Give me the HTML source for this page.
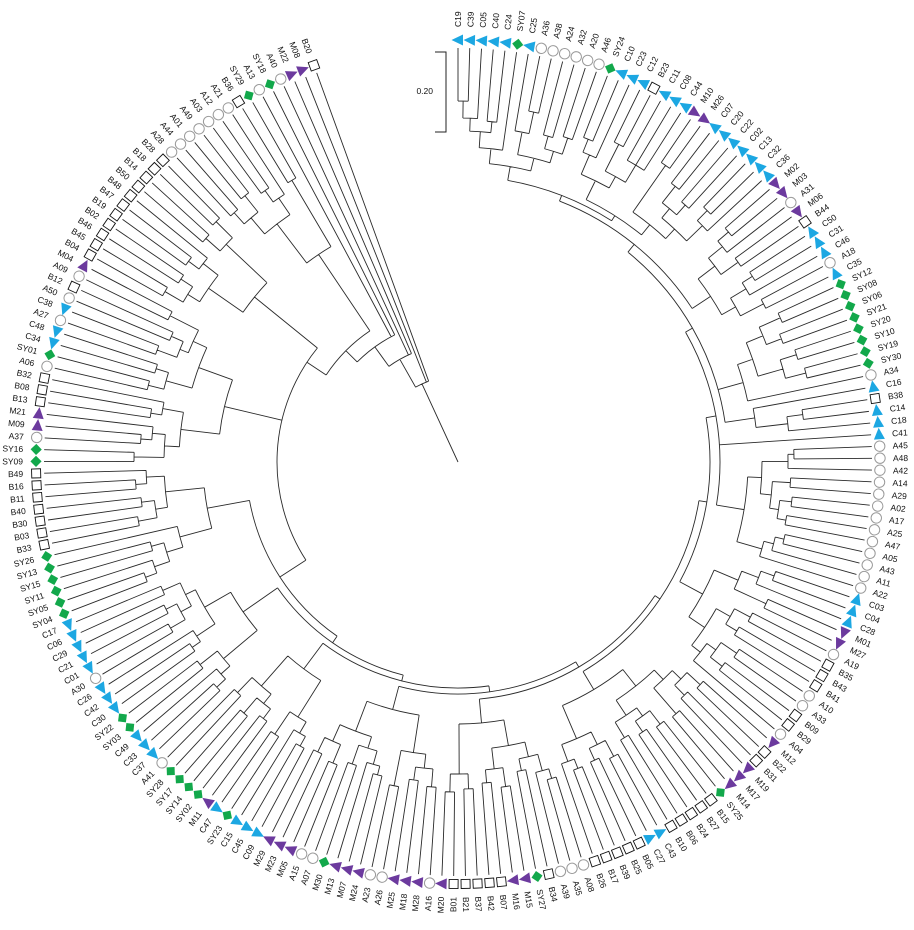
<!DOCTYPE html>
<html><head><meta charset="utf-8"><style>
html,body{margin:0;padding:0;background:#fff;width:914px;height:930px;overflow:hidden}
svg{display:block}
text{font-family:"Liberation Sans",Arial,sans-serif;font-size:8.5px;fill:#111;stroke:none}
.f{text-anchor:end}
</style></head><body>
<svg width="914" height="930" viewBox="0 0 914 930" xmlns="http://www.w3.org/2000/svg">
<defs>
<circle id="A" cx="422" cy="0" r="5.2" fill="#fff" stroke="#9a9a9a" stroke-width="1"/>
<rect id="B" x="417.5" y="-4.5" width="9" height="9" fill="#fff" stroke="#111" stroke-width="0.9"/>
<polygon id="C" points="416.5,5 427.5,5 422,-6.5" fill="#1ca7e2" stroke="none"/>
<polygon id="M" points="416.5,-5 427.5,-5 422,6.5" fill="#6c3a9e" stroke="none"/>
<polygon id="S" points="422,-5.6 427.6,0 422,5.6 416.4,0" fill="#12a84b" stroke="none"/>
</defs>
<rect width="914" height="930" fill="#fff"/>
<path d="M435 52H446V132H435" fill="none" stroke="#222" stroke-width="1"/>
<text x="433" y="94" class="f">0.20</text>
<g transform="translate(458,462) rotate(-90)">
<path id="br" fill="none" stroke="#2a2a2a" stroke-width="0.9"/>
<g id="mk"></g>
<g id="lb">
<text>C19</text><text>C39</text><text>C05</text><text>C40</text><text>C24</text><text>SY07</text><text>C25</text><text>A36</text><text>A38</text><text>A24</text>
<text>A32</text><text>A20</text><text>A46</text><text>SY24</text><text>C10</text><text>C23</text><text>C12</text><text>B23</text><text>C11</text><text>C08</text>
<text>C44</text><text>M10</text><text>M26</text><text>C07</text><text>C20</text><text>C22</text><text>C02</text><text>C13</text><text>C32</text><text>C36</text>
<text>M02</text><text>M03</text><text>A31</text><text>M06</text><text>B44</text><text>C50</text><text>C31</text><text>C46</text><text>A18</text><text>C35</text>
<text>SY12</text><text>SY08</text><text>SY06</text><text>SY21</text><text>SY20</text><text>SY10</text><text>SY19</text><text>SY30</text><text>A34</text><text>C16</text>
<text>B38</text><text>C14</text><text>C18</text><text>C41</text><text>A45</text><text>A48</text><text>A42</text><text>A14</text><text>A29</text><text>A02</text>
<text>A17</text><text>A25</text><text>A47</text><text>A05</text><text>A43</text><text>A11</text><text>A22</text><text>C03</text><text>C04</text><text>C28</text>
<text>M01</text><text>M27</text><text>A19</text><text>B35</text><text>B43</text><text>B41</text><text>A10</text><text>A33</text><text>B09</text><text>B29</text>
<text>A04</text><text>M12</text><text>B22</text><text>B31</text><text>M19</text><text>M17</text><text>M14</text><text>SY25</text><text>B15</text><text>B27</text>
<text>B24</text><text>B06</text><text>B10</text><text>C43</text><text>C27</text><text>B05</text><text>B25</text><text>B39</text><text>B17</text><text>B26</text>
<text>A08</text><text>A35</text><text>A39</text><text>B34</text><text>SY27</text><text>M15</text><text>M16</text><text>B07</text><text>B42</text><text>B37</text>
<text>B21</text><text>B01</text><text>M20</text><text>A16</text><text>M28</text><text>M18</text><text>M25</text><text>A26</text><text>A23</text><text>M24</text>
<text>M07</text><text>M13</text><text>M30</text><text>A07</text><text>A15</text><text>M05</text><text>M23</text><text>M29</text><text>C09</text><text>C45</text>
<text>C15</text><text>SY23</text><text>C47</text><text>M11</text><text>SY02</text><text>SY14</text><text>SY17</text><text>SY28</text><text>A41</text><text>C37</text>
<text>C33</text><text>C49</text><text>SY03</text><text>SY22</text><text>C30</text><text>C42</text><text>C26</text><text>A30</text><text>C01</text><text>C21</text>
<text>C29</text><text>C06</text><text>C17</text><text>SY04</text><text>SY05</text><text>SY11</text><text>SY15</text><text>SY13</text><text>SY26</text><text>B33</text>
<text>B03</text><text>B30</text><text>B40</text><text>B11</text><text>B16</text><text>B49</text><text>SY09</text><text>SY16</text><text>A37</text><text>M09</text>
<text>M21</text><text>B13</text><text>B08</text><text>B32</text><text>A06</text><text>SY01</text><text>C34</text><text>C48</text><text>A27</text><text>C38</text>
<text>A50</text><text>B12</text><text>A09</text><text>M04</text><text>B04</text><text>B45</text><text>B46</text><text>B02</text><text>B19</text><text>B47</text>
<text>B48</text><text>B50</text><text>B14</text><text>B18</text><text>B28</text><text>A28</text><text>A44</text><text>A01</text><text>A49</text><text>A03</text>
<text>A12</text><text>A21</text><text>B36</text><text>SY29</text><text>A13</text><text>SY18</text><text>A40</text><text>M22</text><text>M08</text><text>B20</text>
</g>
</g>
</svg>
<script>
(function(){
var D=1.627,NS="http://www.w3.org/2000/svg";
var C1=[300,[315,[331,[344,[361,0,1],2],[342,3,4]],5],[313,[336,6,[358,7,8]],[325,[338,9,10],[342,11,12]]]];
var C2=[292,[313,[334,[348,13,14],15],[326,[356,16,17],[346,18,19,20]]],[305,[362,21,22],[318,[330,[351,23,24],[343,25,26]],[340,[354,27,28],29]]]];
var C3=[302,[323,[341,[355,30,31],32],[344,33,34]],[318,[336,[348,35,36],37],[344,38,39]]];
var C4=[296,[312,[330,[353,40,41],[346,42,43]],[338,[355,44,45],[359,46,47]]],48];
var C5=[300,49,[332,[348,50,51],52]];
var C7=[290,[304,[330,[336,54,55],56],[315,[333,57,58],[324,[336,59,60],[333,61,62]]]],[316,[326,[335,63,64],65],66]];
var C8=[278,[304,[322,[336,67,68],69],[339,70,71]],[297,[313,[331,72,73],[326,74,75]],[308,[319,[338,76,77],[334,78,79]],80]]];
var C9=[265,[286,[299,[311,[329,81,82],[325,83,84]],[333,85,86]],[304,[314,[331,87,88],[327,89,90]],[322,91,92]]],[301,[315,[333,93,94],[328,95,96]],[319,[329,97,98],99]]];
var C10=[262,[288,[303,[320,[330,100,101],102],[315,103,104]],[309,[328,105,106],[322,107,108]]],[312,[327,109,110],[330,111,112]]];
var C11=[256,[294,[308,[326,113,114],[321,115,116]],[330,117,118]],[288,[300,[314,[323,119,120],121],[320,122,123]],[306,[326,124,125],[322,126,127]]]];
var C12=[258,[301,[314,[325,128,129],130],[328,131,132]],[298,[310,[322,133,134],[330,135,136]],[319,137,138]]];
var C13=[262,[306,[318,[330,139,140],141],[328,142,143]],[292,[314,[324,144,145],146],[303,[315,[332,147,148],[327,149,150]],[322,151,152]]]];
var C14=[255,[288,[305,[321,[333,153,154],155],[318,156,157]],158],[294,[306,[325,159,160],[319,161,162]],[312,[323,163,164],165]]];
var C15=[240,[279,[294,[324,166,167],[307,[318,168,169],170]],[300,[311,171,172],173]],[276,[303,[319,174,175],[316,176,177]],[291,[300,[321,178,179],[313,180,181]],[323,182,183]]]];
var C16=[262,[304,[318,[339,184,185],[332,186,187]],[323,[336,188,189],190]],[318,[337,191,192],[341,193,194]]];
var C17=[250,[299,[320,[335,195,196],[341,197,198]],[319,[333,199,200],201]],[327,202,203]];
var N16=[286,C1,C2],N15=[280,N16,C3],N14=[270,N15,C4,C5],N13=[262,N14,53,C7],N12=[252,N13,C8],
N11=[244,N12,C9],N10=[238,N11,C10],N9=[232,N10,C11],N8=[226,N9,C12],N7=[220,N8,C13],N6=[212,N7,C14];
var N5={r:181,a:186.5,c:[N6,C15,C16]};
var N4=[158,N5,C17],N3=[142,N4,204,205],N2=[118,N3,206,207],N1=[86,N2,208,209];
var P="";
function pt(r,a){var t=a*D*Math.PI/180;return (r*Math.cos(t)).toFixed(2)+","+(r*Math.sin(t)).toFixed(2);}
function rOf(n){return typeof n==="number"?414:(n.r!==undefined?n.r:n[0]);}
function draw(n){
 if(typeof n==="number")return n;
 var r=rOf(n),k=n.c||n.slice(1),as=k.map(draw),s=as[0],e=as[as.length-1];
 P+="M"+pt(r,s)+"A"+r+","+r+" 0 "+((e-s)*D>180?1:0)+",1 "+pt(r,e);
 for(var i=0;i<k.length;i++)P+="M"+pt(r,as[i])+"L"+pt(rOf(k[i]),as[i]);
 return n.a!==undefined?n.a:(s+e)/2;
}
var ra=draw(N1);P+="M0,0L"+pt(86,ra);
document.getElementById("br").setAttribute("d",P);
var T="CCCCCSCAAAAAA"+"SCCCBCCCMMCCCCCCC"+"MMAMBCCCAC"+"SSSSSSSSA"+"CBCCC"+"AAAAAAAAAAAAA"+"CCCMMABBBAABBA"+"MBBMMMSBBBBBCCBBBBB"+"AAABSMMBBBBBM"+"AMMMAAMMMSAAMMM"+"CCCSCMSSSSA"+"CCCSSCCCACCCCC"+"SSSSSSBBBBBBB"+"SSAMMBBBASCCACABAM"+"BBBBBBBBBBB"+"AAAAAAABS"+"ASAMMB";
var mk=document.getElementById("mk");
for(var k=0;k<T.length;k++){var u=document.createElementNS(NS,"use");u.setAttribute("href","#"+T.charAt(k));u.setAttribute("transform","rotate("+(k*D).toFixed(3)+")");mk.appendChild(u);}
var L=document.getElementById("lb").children;
for(var j=0;j<L.length;j++){var t=L[j];
 if(j<111){t.setAttribute("transform","rotate("+(j*D).toFixed(3)+")");t.setAttribute("x","435");}
 else{t.setAttribute("transform","rotate("+(j*D+180).toFixed(3)+")");t.setAttribute("x","-435");t.setAttribute("class","f");}
 t.setAttribute("y","3");}
})();
</script>
</body></html>
